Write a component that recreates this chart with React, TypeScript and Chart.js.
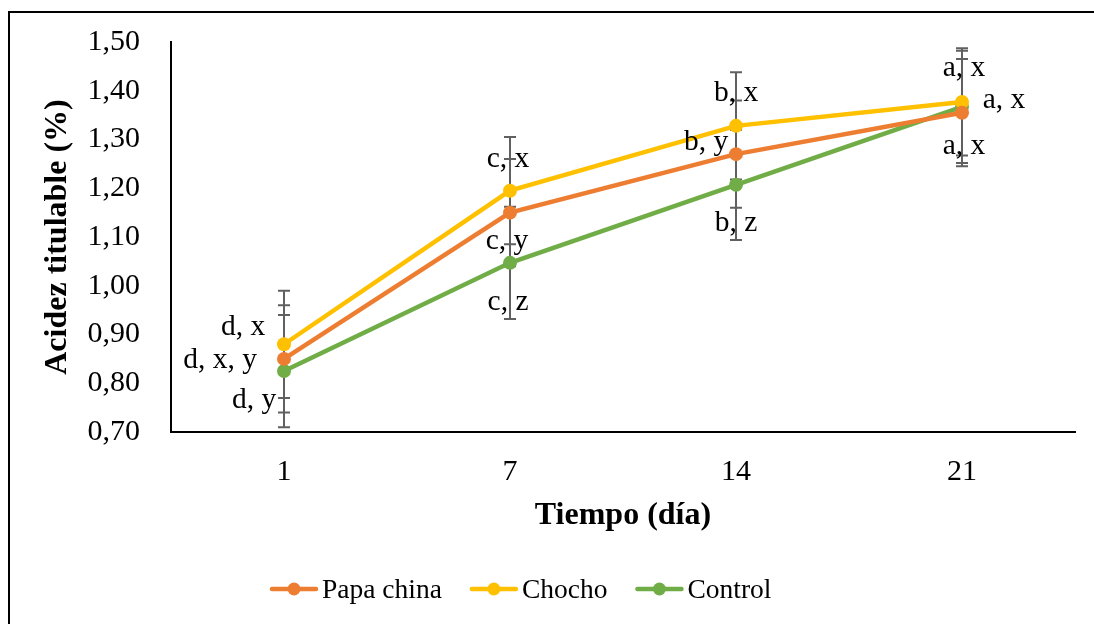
import React, { useEffect, useRef } from 'react';
import { Chart, registerables } from 'chart.js';

Chart.register(...registerables);

// ---- Data ----
const categories = ['1', '7', '14', '21'];
const papaChina = [0.85, 1.15, 1.27, 1.355];
const chocho = [0.88, 1.195, 1.328, 1.377];
const control = [0.825, 1.047, 1.207, 1.367];
const papaChinaErr = [0.11, 0.11, 0.11, 0.11];
const chochoErr = [0.11, 0.11, 0.11, 0.11];
const controlErr = [0.115, 0.115, 0.113, 0.115];
const papaChinaLabels = ['d, x, y', 'c, y', 'b, y', 'a, x'];
const chochoLabels = ['d, x', 'c, x', 'b, x', 'a, x'];
const controlLabels = ['d, y', 'c, z', 'b, z', 'a, x'];
const yMin = 0.7;
const yMax = 1.5;
const yStep = 0.1;
const seriesNames = ['Papa china', 'Chocho', 'Control'];

// ---- Styling / placement (not data) ----
const FONT = "'Liberation Serif', 'Times New Roman', serif";
const COLORS = ['#ED7D31', '#FFC000', '#70AD47'];
// label offsets (text centre relative to the point, px)
const labelOffsets = [
  [[-64, 1], [-3, 29], [-30, -12], [2, 34]],
  [[-41, -17], [-2, -31], [0, -33], [2, -34]],
  [[-30, 29], [-2, 39], [0, 38], [42, -7]],
];

const errorSets = [papaChinaErr, chochoErr, controlErr];
const labelSets = [papaChinaLabels, chochoLabels, controlLabels];

const borderPlugin = {
  id: 'outerBorder',
  beforeDraw(chart: any) {
    const ctx = chart.ctx;
    ctx.save();
    ctx.strokeStyle = '#000';
    ctx.lineWidth = 2;
    ctx.strokeRect(9, 12, chart.width + 20, chart.height + 20);
    ctx.restore();
  },
};

const errorBarPlugin = {
  id: 'errorBars',
  beforeDatasetsDraw(chart: any) {
    const ctx = chart.ctx;
    const yScale = chart.scales.y;
    ctx.save();
    ctx.strokeStyle = '#606060';
    ctx.lineWidth = 2;
    chart.data.datasets.forEach((ds: any, di: number) => {
      const meta = chart.getDatasetMeta(di);
      meta.data.forEach((pt: any, i: number) => {
        const v = ds.data[i];
        const e = errorSets[di][i];
        const x = pt.x;
        const yTop = yScale.getPixelForValue(v + e);
        const yBot = yScale.getPixelForValue(v - e);
        ctx.beginPath();
        ctx.moveTo(x, yTop);
        ctx.lineTo(x, yBot);
        ctx.moveTo(x - 6, yTop);
        ctx.lineTo(x + 6, yTop);
        ctx.moveTo(x - 6, yBot);
        ctx.lineTo(x + 6, yBot);
        ctx.stroke();
      });
    });
    ctx.restore();
  },
};

const labelPlugin = {
  id: 'pointLabels',
  afterDatasetsDraw(chart: any) {
    const ctx = chart.ctx;
    ctx.save();
    ctx.fillStyle = '#000';
    ctx.font = `29.5px ${FONT}`;
    ctx.textAlign = 'center';
    ctx.textBaseline = 'middle';
    chart.data.datasets.forEach((_ds: any, di: number) => {
      const meta = chart.getDatasetMeta(di);
      meta.data.forEach((pt: any, i: number) => {
        const [dx, dy] = labelOffsets[di][i];
        ctx.fillText(labelSets[di][i], pt.x + dx, pt.y + dy);
      });
    });
    ctx.restore();
  },
};

const legendPlugin = {
  id: 'customLegend',
  afterDraw(chart: any) {
    const ctx = chart.ctx;
    ctx.save();
    ctx.font = `27.5px ${FONT}`;
    ctx.textBaseline = 'middle';
    ctx.textAlign = 'left';
    let x = 270;
    const y = 589;
    seriesNames.forEach((name, i) => {
      ctx.strokeStyle = COLORS[i];
      ctx.lineWidth = 4.5;
      ctx.lineCap = 'round';
      ctx.beginPath();
      ctx.moveTo(x + 2, y);
      ctx.lineTo(x + 46, y);
      ctx.stroke();
      ctx.fillStyle = COLORS[i];
      ctx.beginPath();
      ctx.arc(x + 24, y, 6.5, 0, Math.PI * 2);
      ctx.fill();
      ctx.fillStyle = '#000';
      ctx.fillText(name, x + 52, y + 2);
      x += 52 + ctx.measureText(name).width + 28;
    });
    ctx.restore();
  },
};

export default function App() {
  const ref = useRef<HTMLCanvasElement | null>(null);

  useEffect(() => {
    if (!ref.current) return;
    const series = [papaChina, chocho, control];
    const chart = new Chart(ref.current, {
      type: 'line',
      data: {
        labels: categories,
        datasets: series.map((d, i) => ({
          label: seriesNames[i],
          data: d,
          borderColor: COLORS[i],
          backgroundColor: COLORS[i],
          borderWidth: 4.5,
          pointRadius: 7,
          pointHoverRadius: 7,
          pointBorderWidth: 0,
          pointBackgroundColor: COLORS[i],
          tension: 0,
        })),
      },
      options: {
        responsive: false,
        animation: false,
        devicePixelRatio: 1,
        layout: { padding: { left: 0, top: 42, right: 19, bottom: 0 } },
        plugins: {
          legend: { display: false },
          tooltip: { enabled: false },
        },
        scales: {
          x: {
            type: 'category',
            offset: true,
            grid: { display: false, drawTicks: false },
            border: { display: true, color: '#000', width: 2 },
            ticks: {
              color: '#000',
              font: { family: FONT, size: 30 },
              padding: 22,
            },
            title: {
              display: true,
              text: 'Tiempo (día)',
              color: '#000',
              font: { family: FONT, size: 32, weight: 'bold' },
              padding: { top: 0, bottom: 89 },
            },
            afterFit: (scale: any) => {
              scale.height = 192;
            },
          },
          y: {
            min: yMin,
            max: yMax,
            grid: { display: false, drawTicks: false },
            border: { display: true, color: '#000', width: 2 },
            ticks: {
              stepSize: yStep,
              color: '#000',
              font: { family: FONT, size: 30 },
              padding: 31,
              callback: (v: any) => Number(v).toFixed(2).replace('.', ','),
            },
            title: {
              display: true,
              text: 'Acidez titulable (%)',
              color: '#000',
              font: { family: FONT, size: 32, weight: 'bold' },
              padding: { top: 39, bottom: 0 },
            },
            afterFit: (scale: any) => {
              scale.width = 171;
              scale.paddingTop = 0;
              scale.paddingBottom = 0;
            },
          },
        },
      },
      plugins: [borderPlugin, errorBarPlugin, labelPlugin, legendPlugin],
    });
    return () => chart.destroy();
  }, []);

  return (
    <div style={{ position: 'fixed', left: 0, top: 0, width: 1094, height: 624, background: '#fff' }}>
      <canvas ref={ref} width={1094} height={624} style={{ display: 'block' }} />
    </div>
  );
}
